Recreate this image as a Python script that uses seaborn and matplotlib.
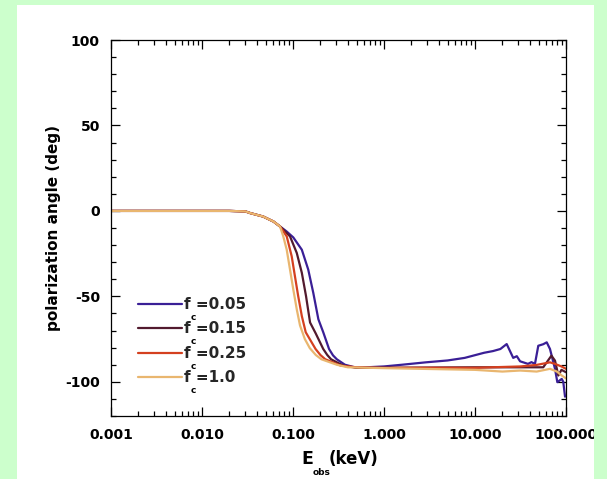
import numpy as np
import pandas as pd
import matplotlib
matplotlib.use('Agg')
import matplotlib.pyplot as plt
import seaborn as sns
from matplotlib.lines import Line2D
from matplotlib.patches import Rectangle
from matplotlib.ticker import MultipleLocator, FixedLocator, LogLocator, NullFormatter

# shared low-energy part (keV, deg)
e_head = [0.001, 0.01, 0.02, 0.03, 0.034, 0.047, 0.061, 0.072]
pa_head = [0.0, 0.0, 0.0, -0.3, -1.3, -3.3, -6.2, -9.1]

# f_c = 0.05
e_fc005 = [0.085, 0.1007, 0.125, 0.147, 0.167, 0.190, 0.215, 0.249, 0.275, 0.303, 0.372, 0.5, 1.0,
           1.58, 2.88, 5.0, 7.7, 12.6, 15.8, 19.0, 22.3, 26.3, 28.8, 31.3, 38.2, 41.7, 45.6, 49.6,
           56.2, 61.4, 66.7, 75.7, 80.3, 89.8, 93.3, 97.6]
pa_fc005 = [-12.0, -15.5, -22.7, -34.3, -47.9, -63.4, -71.0, -80.8, -84.5, -86.8, -90.0, -91.8, -91.0,
            -90.0, -88.6, -87.5, -86.0, -83.0, -82.0, -80.8, -77.9, -86.0, -85.0, -88.0, -89.5, -88.5,
            -89.5, -78.9, -78.0, -76.9, -80.8, -92.4, -100.2, -98.3, -100.0, -108.7]

# f_c = 0.15
e_fc015 = [0.0927, 0.110, 0.125, 0.139, 0.154, 0.177, 0.215, 0.238, 0.262, 0.355, 0.5, 1.0, 10.0,
           31.6, 56.2, 69.2, 75.7, 82.4, 89.1, 100.0]
pa_fc015 = [-14.9, -24.6, -36.2, -49.8, -65.3, -71.5, -80.8, -84.3, -86.8, -90.5, -91.8, -91.8, -91.5,
            -91.5, -91.5, -84.7, -87.6, -96.3, -93.0, -94.4]

# f_c = 0.25
e_fc025 = [0.0853, 0.0968, 0.105, 0.114, 0.125, 0.138, 0.177, 0.200, 0.226, 0.334, 0.5, 1.0, 10.0,
           31.6, 47.6, 66.7, 75.7, 89.0, 100.0]
pa_fc025 = [-14.9, -26.6, -38.2, -49.8, -61.5, -71.0, -80.8, -84.3, -86.8, -90.5, -91.5, -91.8, -91.8,
            -91.0, -90.1, -88.6, -89.5, -91.0, -92.4]

# f_c = 1.0
e_fc100 = [0.0782, 0.0853, 0.0927, 0.1007, 0.110, 0.1194, 0.135, 0.153, 0.178, 0.205, 0.303, 0.40,
           1.0, 10.0, 20.0, 31.3, 47.6, 66.7, 79.4, 89.8, 100.0]
pa_fc100 = [-14.9, -22.7, -34.3, -45.9, -57.6, -67.0, -75.0, -80.3, -84.3, -86.8, -90.0, -91.5,
            -92.0, -93.0, -94.0, -93.4, -94.0, -92.4, -94.0, -96.3, -98.0]

fc_labels = ['0.05', '0.15', '0.25', '1.0']
colors = ['#3a1f96', '#521a2e', '#d4401f', '#e9b66f']

x_ticks = [0.001, 0.01, 0.1, 1.0, 10.0, 100.0]
x_ticklabels = ['0.001', '0.010', '0.100', '1.000', '10.000', '100.000']
y_ticks = [-100, -50, 0, 50, 100]
y_ticklabels = ['-100', '-50', '0', '50', '100']

series = [(e_fc005, pa_fc005), (e_fc015, pa_fc015), (e_fc025, pa_fc025), (e_fc100, pa_fc100)]
frames = []
for lab, (e, pa) in zip(fc_labels, series):
    frames.append(pd.DataFrame({'E': e_head + e, 'angle': pa_head + pa, 'fc': lab}))
df = pd.concat(frames, ignore_index=True)

sns.set_theme(style='ticks')
plt.rcParams['font.family'] = ['DejaVu Sans']
plt.rcParams['font.weight'] = 'bold'
plt.rcParams['axes.labelweight'] = 'bold'
plt.rcParams['axes.unicode_minus'] = False

green = '#ccffcc'
fig = plt.figure(figsize=(6.07, 4.79), dpi=100, facecolor=green)
fig.add_artist(Rectangle((17 / 607, 0), 577 / 607, 474 / 479, transform=fig.transFigure,
                         facecolor='white', edgecolor='none', zorder=-1))
ax = fig.add_axes([111 / 607, 63 / 479, 455 / 607, 376 / 479])
ax.set_facecolor('white')

sns.lineplot(data=df, x='E', y='angle', hue='fc', hue_order=fc_labels, palette=colors,
             linewidth=1.6, legend=False, sort=False, estimator=None, ax=ax)

ax.set_xscale('log')
ax.set_xlim(0.001, 100)
ax.set_ylim(-120, 100)
ax.xaxis.set_major_locator(FixedLocator(x_ticks))
ax.set_xticklabels(x_ticklabels)
ax.xaxis.set_minor_locator(LogLocator(base=10, subs=np.arange(2, 10)))
ax.xaxis.set_minor_formatter(NullFormatter())
ax.yaxis.set_major_locator(FixedLocator(y_ticks))
ax.set_yticklabels(y_ticklabels)
ax.yaxis.set_minor_locator(MultipleLocator(10))

for sp in ax.spines.values():
    sp.set_color('black')
    sp.set_linewidth(0.9)
ax.tick_params(which='both', direction='in', top=True, right=True, color='black', width=0.9)
ax.tick_params(which='major', length=6.5, labelsize=10, labelcolor='black')
ax.tick_params(which='minor', length=3.5)
ax.tick_params(axis='y', pad=8)
ax.tick_params(axis='x', pad=8.5)

ax.set_xlabel('')
ax.set_ylabel('polarization angle (deg)', fontsize=11, color='black')
ax.yaxis.set_label_coords(-0.11, 0.5)

# x label with IDL-style low subscript
ax.text(0.4176, -0.114, 'E', transform=ax.transAxes, ha='left', va='center', fontsize=12.5, color='black')
ax.text(0.444, -0.149, 'obs', transform=ax.transAxes, ha='left', va='center', fontsize=6.5, color='black')
ax.text(0.479, -0.114, '(keV)', transform=ax.transAxes, ha='left', va='center', fontsize=12, color='black')

handles = [Line2D([], [], color=c, lw=1.6) for c in colors]
leg = ax.legend(handles, ['f =' + s for s in fc_labels], loc='upper left',
                bbox_to_anchor=(0.0593, 0.3165), frameon=False, borderpad=0, borderaxespad=0,
                handlelength=2.9, handletextpad=0.1, labelspacing=0.62,
                prop={'weight': 'bold', 'size': 11})

fig.canvas.draw()
W, H = fig.canvas.get_width_height()
for t in leg.get_texts():
    bb = t.get_window_extent()
    fig.text((bb.x0 + 7) / W, (bb.y0 - 5.5) / H, 'c', ha='left', va='center',
             fontsize=6.5, color='black')

# green border on the right clips the last tick label
fig.add_artist(Rectangle((594 / 607, 0), 13 / 607, 1, transform=fig.transFigure,
                         facecolor=green, edgecolor='none', zorder=10))

fig.savefig('out.png', dpi=100, facecolor=fig.get_facecolor())
